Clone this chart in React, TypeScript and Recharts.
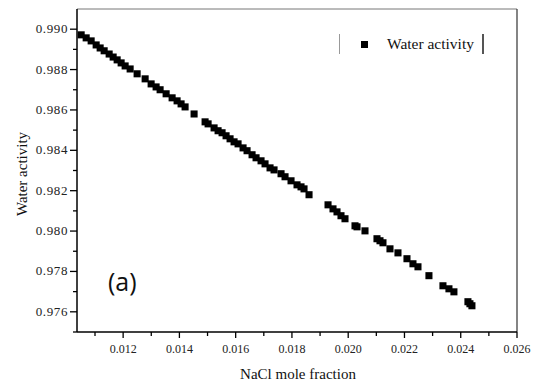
import { ScatterChart, Scatter, XAxis, YAxis, ZAxis, ReferenceLine } from "recharts";

const nacl = [
  0.010508, 0.010686, 0.010863, 0.011041, 0.011183, 0.011325, 0.011503, 0.011645, 0.011787, 0.011929,
  0.012071, 0.012249, 0.012497, 0.012782, 0.012995, 0.013172, 0.013314, 0.013528, 0.013741, 0.013918,
  0.01406, 0.014202, 0.014522, 0.014913, 0.01502, 0.015233, 0.015375, 0.015517, 0.015659, 0.015801,
  0.015943, 0.016085, 0.016263, 0.016405, 0.016583, 0.016725, 0.016902, 0.017044, 0.017222, 0.017364,
  0.017613, 0.017755, 0.017968, 0.018181, 0.018323, 0.01843, 0.018608, 0.019283, 0.01946, 0.019602,
  0.019744, 0.019886, 0.020242, 0.020313, 0.020597, 0.021023, 0.02113, 0.021236, 0.021485, 0.021769,
  0.022089, 0.022302, 0.02248, 0.02287, 0.023368, 0.023581, 0.023758, 0.024256, 0.024327, 0.024398,
];

const activity = [
  0.98972, 0.98957, 0.98942, 0.98922, 0.98907, 0.98893, 0.98877, 0.98862, 0.98848, 0.98833,
  0.98818, 0.98803, 0.98779, 0.98754, 0.98729, 0.98714, 0.987, 0.9868, 0.9866, 0.98645,
  0.9863, 0.98615, 0.9858, 0.98541, 0.98531, 0.98511, 0.98497, 0.98487, 0.98472, 0.98457,
  0.98442, 0.98432, 0.98412, 0.98398, 0.98378, 0.98363, 0.98348, 0.98333, 0.98313, 0.98303,
  0.98284, 0.98269, 0.98249, 0.98229, 0.98219, 0.98209, 0.9818, 0.9813, 0.9811, 0.98095,
  0.98076, 0.98061, 0.98026, 0.98021, 0.98001, 0.97962, 0.97952, 0.97942, 0.97912, 0.97892,
  0.97863, 0.97838, 0.97823, 0.97779, 0.97729, 0.97714, 0.97699, 0.9765, 0.9764, 0.9763,
];

const xTicks = [0.011, 0.012, 0.013, 0.014, 0.015, 0.016, 0.017, 0.018, 0.019, 0.02, 0.021, 0.022, 0.023, 0.024, 0.025, 0.026];
const yTicks = [0.975, 0.976, 0.977, 0.978, 0.979, 0.98, 0.981, 0.982, 0.983, 0.984, 0.985, 0.986, 0.987, 0.988, 0.989, 0.99, 0.991];

const data = nacl.map((x, i) => ({ x, y: activity[i] }));

const serif = "'Liberation Serif', 'Times New Roman', serif";

const isMajor = (v: number) => Math.round(v * 1000) % 2 === 0;

function XTick(props: any) {
  const { x, y, payload } = props;
  const major = isMajor(payload.value);
  return (
    <g>
      <line x1={x} x2={x} y1={y} y2={y + (major ? 6 : 4)} stroke="#000" strokeWidth={1.3} />
      {major && (
        <text x={x} y={y + 21} textAnchor="middle" fill="#222" style={{ fontFamily: serif, fontSize: 12 }}>
          {payload.value.toFixed(3)}
        </text>
      )}
    </g>
  );
}

function YTick(props: any) {
  const { x, y, payload } = props;
  const major = isMajor(payload.value);
  if (payload.value > 0.9905) return null;
  return (
    <g>
      <line x1={x} x2={x - (major ? 7 : 4)} y1={y} y2={y} stroke="#000" strokeWidth={1.3} />
      {major && (
        <text x={x - 9} y={y} dy={4} textAnchor="end" fill="#222" style={{ fontFamily: serif, fontSize: 13, letterSpacing: 0.6 }}>
          {payload.value.toFixed(3)}
        </text>
      )}
    </g>
  );
}

export default function App() {
  return (
    <div style={{ position: "absolute", left: 0, top: 0, width: 536, height: 383, background: "#fff" }}>
      <ScatterChart width={536} height={383} margin={{ top: 9, right: 19, bottom: 0, left: 0 }}>
        <XAxis
          type="number"
          dataKey="x"
          domain={[0.01036, 0.026]}
          ticks={xTicks}
          tick={<XTick />}
          tickLine={false}
          tickSize={0}
          tickMargin={0}
          height={51}
          axisLine={{ stroke: "#000", strokeWidth: 1.5 }}
          allowDataOverflow
          interval={0}
        />
        <YAxis
          type="number"
          dataKey="y"
          domain={[0.975, 0.991]}
          ticks={yTicks}
          tick={<YTick />}
          tickLine={false}
          tickSize={0}
          tickMargin={0}
          width={77}
          axisLine={{ stroke: "#000", strokeWidth: 1.5 }}
          allowDataOverflow
          interval={0}
          label={{
            content: () => (
              <text
                x={22}
                y={174}
                transform="rotate(-90 22 174)"
                textAnchor="middle"
                dominantBaseline="central"
                fill="#111"
                style={{ fontFamily: serif, fontSize: 15 }}
              >
                Water activity
              </text>
            ),
          }}
        />
        <ZAxis range={[50, 50]} />
        <ReferenceLine y={0.991} stroke="#777" strokeWidth={1} ifOverflow="extendDomain" />
        <ReferenceLine x={0.026} stroke="#333" strokeWidth={1.2} ifOverflow="extendDomain" />
        <Scatter data={data} fill="#000" shape="square" isAnimationActive={false} />
      </ScatterChart>
      <div
        style={{
          position: "absolute",
          left: 0,
          top: 366,
          width: 596,
          textAlign: "center",
          fontFamily: serif,
          fontSize: 15,
          color: "#111",
        }}
      >
        NaCl mole fraction
      </div>
      <div
        style={{
          position: "absolute",
          left: 339,
          top: 34,
          height: 20,
          width: 142,
          borderLeft: "1px solid #999",
          borderRight: "2px solid #555",
          fontFamily: serif,
          fontSize: 15.5,
          color: "#111",
          lineHeight: "20px",
        }}
      >
        <span style={{ position: "absolute", left: 21, top: 7, width: 7, height: 7, background: "#000" }} />
        <span style={{ position: "absolute", left: 47, top: 0 }}>Water activity</span>
      </div>
      <div
        style={{
          position: "absolute",
          left: 108,
          top: 264,
          fontFamily: "'Open Sans', 'Noto Sans', sans-serif",
          fontSize: 25,
          color: "#111",
        }}
      >
        (a)
      </div>
    </div>
  );
}
